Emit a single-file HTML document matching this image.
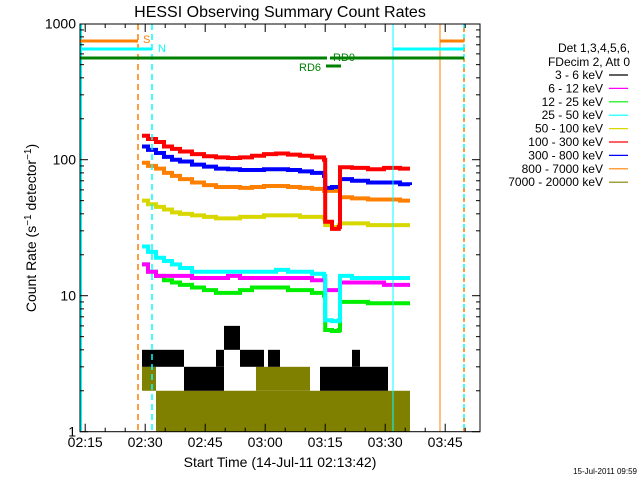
<!DOCTYPE html>
<html><head><meta charset="utf-8"><style>
body{margin:0;background:#fff;}
svg{display:block;font-family:"Liberation Sans",sans-serif;}
</style></head><body>
<svg id="c" width="640" height="480" xmlns="http://www.w3.org/2000/svg">
<rect width="640" height="480" fill="#fff"/>
<text x="280" y="17" font-size="16" text-anchor="middle">HESSI Observing Summary Count Rates</text>
<g id="plot"></g>
<g id="axes"></g>
<text x="280" y="467" font-size="14" text-anchor="middle">Start Time (14-Jul-11 02:13:42)</text>
<text transform="translate(36,228) rotate(-90)" font-size="14" text-anchor="middle">Count Rate (s<tspan dy="-5" font-size="10">−1</tspan><tspan dy="5"> detector</tspan><tspan dy="-5" font-size="10">−1</tspan><tspan dy="5">)</tspan></text>
<text x="637" y="474" font-size="8" text-anchor="end">15-Jul-2011 09:59</text>
<g id="legend">
<text x="630" y="52" font-size="12" text-anchor="end">Det 1,3,4,5,6,</text>
<text x="630" y="66" font-size="12" text-anchor="end">FDecim 2, Att 0</text>
</g>
</svg>
<script>
// time in minutes since 02:13:42
const times=[15.5,17,19,21,23,25,28,31,34,37,40,43,46,49,52,55,58,61,61.3,63,64.7,65,68,72,76,80,82.5];
const red=[150,142,135,125,120,115,110,106,104,103,104,107,110,111,109,107,104,100,35,31,32,88,87,85,87,86,86];
const blue=[125,118,112,105,100,97,92,89,86,85,84,84,85,85,84,82,80,76,62,63,63,72,70,68,68,66,65];
const orange=[95,90,86,80,76,72,68,65,63,63,62,63,64,64,63,62,61,59,59,59,59,53,52,51,51,50,50];
const yellow=[50,47,45,43,41,40,39,38,37,37,38,38,39,39,39,38,38,37,33,32,33,34,34,33,33,33,33];
const cyan=[23,21,19,18,17,16,15,15,15,15,15,15,15,15.5,15,15,14.5,14,6.6,6.5,6.6,14,13.5,13.5,13.5,13.5,13.5];
const magenta=[17,15,14,14,14,14,13.5,13.5,13.5,14,13.5,13.5,13.5,13.5,13.5,13.5,13,13,11,11,11,12.5,12.5,12.5,12,12,12];
const green=[17,15,14,13,12.5,12,11.5,11,10.5,10.5,11,11.5,11.5,11.5,11,11,10.5,10,5.6,5.5,5.6,9,9,8.8,8.8,8.8,8.8];
const blackBlocks=[[15.5,26,3,4],[34,36,3,4],[36,40,4,6],[40,46,3,4],[47,50,3,4],[68,70,3,4],[26,36,2,3],[60,77,2,3]];
const oliveBlocks=[[15.5,19,2,3],[44,57.5,2,3],[19,82.5,1,2]];
const xTickLabels=["02:15","02:30","02:45","03:00","03:15","03:30","03:45"];
const xTickTimes=[1.3,16.3,31.3,46.3,61.3,76.3,91.3];
const yTickLabels=["1","10","100","1000"];
const yTickValues=[1,10,100,1000];
const legendLabels=["3 - 6 keV","6 - 12 keV","12 - 25 keV","25 - 50 keV","50 - 100 keV","100 - 300 keV","300 - 800 keV","800 - 7000 keV","7000 - 20000 keV"];
const legendColors=["#000","#ff00ff","#00ee00","#00ffff","#d8d800","#ff0000","#0000ff","#ff8000","#808000"];

const NS="http://www.w3.org/2000/svg";
const X0=80,X1=480,Y0=24,Y1=431.7;
function xs(t){return X0+t*4;}
function ys(v){return Y1-136*Math.log10(v);}
function mk(tag,attrs,parent){const e=document.createElementNS(NS,tag);for(const k in attrs)e.setAttribute(k,attrs[k]);parent.appendChild(e);return e;}
const plot=document.getElementById('plot'),axes=document.getElementById('axes'),leg=document.getElementById('legend');

// low-rate blocks
oliveBlocks.forEach(b=>{const r=mk('rect',{x:xs(b[0]),y:ys(b[3]),width:xs(b[1])-xs(b[0]),height:ys(b[2])-ys(b[3]),fill:'#808000'},plot);

});
blackBlocks.forEach(b=>{const r=mk('rect',{x:xs(b[0]),y:ys(b[3]),width:xs(b[1])-xs(b[0]),height:ys(b[2])-ys(b[3]),fill:'#000'},plot);

});

// series
const series=[[green,'#00ee00','green-series'],[magenta,'#ff00ff','magenta-series'],[cyan,'#00ffff','cyan-series'],[yellow,'#d8d800','yellow-series'],[orange,'#ff8000','orange-series'],[blue,'#0000ff','blue-series'],[red,'#ff0000','red-series']];
series.forEach(s=>{let d='';const v=s[0];
for(let i=0;i<times.length;i++){const x=xs(times[i]),y=ys(v[i]);
if(i===0)d+='M'+x+' '+y;else d+=' H'+x+' V'+y;}
d+=' H'+xs(82.5);
const p=mk('path',{d:d,fill:'none',stroke:s[1],'stroke-width':4},plot);

});

// overlay flags
function line(x1,y1,x2,y2,c,w,dash,name){const l=mk('line',{x1:x1,y1:y1,x2:x2,y2:y2,stroke:c,'stroke-width':w},plot);if(dash)l.setAttribute('stroke-dasharray',dash);

}
line(81,24,81,431,'#00ffff',2,null,'eclipse-line-start');
line(393,24,393,431,'#00ffff',1,null,'eclipse-line-end');
line(440,24,440,431,'#ff8000',1,null,'saa-line');
line(138,24,138,431,'#ff8000',1.5,'6,4','saa-exit-line');
line(152,24,152,431,'#00ffff',1.5,'6,4','night-exit-line');
line(464,24,464,431,'#00ffff',1.5,'6,4','night-line-2');
line(464,28,464,431,'#ff8000',1.5,'4,6','saa-line-2');
line(80,41,138,41,'#ff8000',3,null,'saa-bar-1');
line(440,41,464,41,'#ff8000',3,null,'saa-bar-2');
line(80,49,152,49,'#00ffff',3,null,'night-bar-1');
line(393,49,464,49,'#00ffff',3,null,'night-bar-2');
line(80,58,327,58,'#008000',3,null,'rd0-bar-1');
line(330,58,464,58,'#008000',3,null,'rd0-bar-2');
line(326,66,341,66,'#008000',3,null,'rd6-bar');
function txt(x,y,s,c,name,size,anchor){const t=mk('text',{x:x,y:y,fill:c,'font-size':size||11,'text-anchor':anchor||'start'},plot);t.textContent=s;

}
txt(143,43,'S','#ff8000','saa-label');
txt(158,52,'N','#00ffff','night-label');
txt(333,61,'RD0','#008000','rd0-label');
txt(299,71,'RD6','#008000','rd6-label');

// frame
const fr=mk('rect',{x:X0,y:Y0,width:X1-X0,height:Y1-Y0,fill:'none',stroke:'#000','stroke-width':1},axes);


// y ticks
for(let dec=0;dec<3;dec++){for(let m=1;m<10;m++){const y=ys(m*Math.pow(10,dec));const L=m===1?8:4;
mk('line',{x1:X0,y1:y,x2:X0+L,y2:y,stroke:'#000'},axes);mk('line',{x1:X1,y1:y,x2:X1-L,y2:y,stroke:'#000'},axes);}}
yTickValues.forEach((v,i)=>{const t=mk('text',{x:X0-4,y:ys(v)+5,'font-size':14,'text-anchor':'end'},axes);t.textContent=yTickLabels[i];

});
// x ticks
for(let t=1.3;t<100;t+=5){const x=xs(t);const major=Math.abs(((t-1.3)/15)-Math.round((t-1.3)/15))<0.01;const L=major?8:4;
mk('line',{x1:x,y1:Y1,x2:x,y2:Y1-L,stroke:'#000'},axes);mk('line',{x1:x,y1:Y0,x2:x,y2:Y0+L,stroke:'#000'},axes);}
xTickTimes.forEach((t,i)=>{const e=mk('text',{x:xs(t),y:447,'font-size':14,'text-anchor':'middle'},axes);e.textContent=xTickLabels[i];

});
// legend
legendLabels.forEach((s,i)=>{const y=79+i*13.4;
const t=mk('text',{x:603,y:y,'font-size':12,'text-anchor':'end'},leg);t.textContent=s;


const l=mk('line',{x1:609,y1:y-4,x2:628,y2:y-4,stroke:legendColors[i],'stroke-width':1.2},leg);

});
</script>
</body></html>
